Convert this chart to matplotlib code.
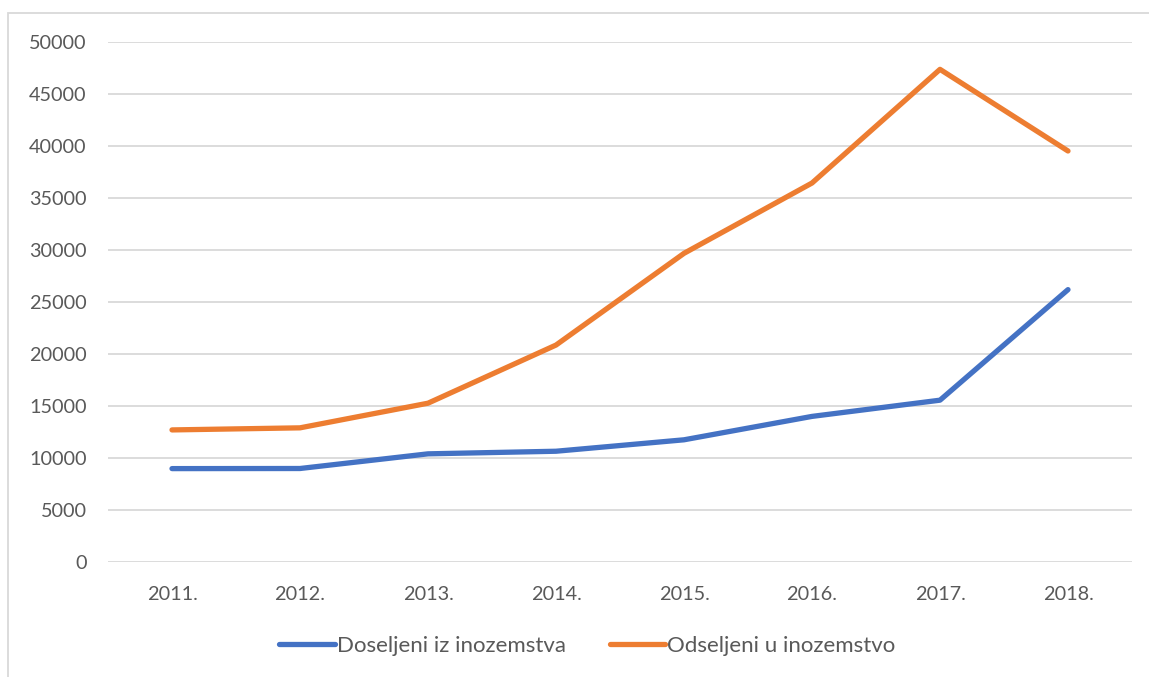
import matplotlib
matplotlib.use('Agg')
from matplotlib import pyplot as plt
from matplotlib.patches import Rectangle

years = ['2011.', '2012.', '2013.', '2014.', '2015.', '2016.', '2017.', '2018.']
doseljeni = [8980, 8990, 10400, 10650, 11750, 14000, 15560, 26190]
odseljeni = [12700, 12900, 15270, 20860, 29680, 36440, 47370, 39520]

plt.rcParams['font.family'] = ['Lato', 'DejaVu Sans']
text_col = '#595959'
grid_col = '#D9D9D9'

fig = plt.figure(figsize=(11.49, 6.77), dpi=100)
ax = fig.add_axes([108 / 1149, 1 - 562 / 677, (1132 - 108) / 1149, (562 - 42) / 677])

x = range(len(years))
ax.plot(x, doseljeni, color='#4472C4', lw=3.8, solid_capstyle='round',
        solid_joinstyle='round', label='Doseljeni iz inozemstva')
ax.plot(x, odseljeni, color='#ED7D31', lw=3.8, solid_capstyle='round',
        solid_joinstyle='round', label='Odseljeni u inozemstvo')

ax.set_xlim(-0.5, len(years) - 0.5)
ax.set_ylim(0, 50000)
ax.set_yticks(range(0, 50001, 5000))
ax.set_xticks(list(x))
ax.set_xticklabels(years)
ax.grid(True, axis='y', color=grid_col, lw=1.3)
ax.set_axisbelow(True)
for s in ax.spines.values():
    s.set_visible(False)
ax.tick_params(axis='both', length=0, labelsize=14.3, labelcolor=text_col)
ax.tick_params(axis='y', pad=15.5)
ax.tick_params(axis='x', pad=17.5)

# legend sits a bit right of centre, as in the original
fig.legend(loc='center', bbox_to_anchor=(0.5 + 13 / 1149, 1 - 646 / 677), ncol=2,
           frameon=False, fontsize=16, labelcolor=text_col, handlelength=2.5,
           handletextpad=0.1, columnspacing=1.95)

# chart border
fig.patches.append(Rectangle((8 / 1149, -0.1), 1.2, 1 - 12.5 / 677 + 0.1,
                             transform=fig.transFigure, fill=False,
                             edgecolor=grid_col, lw=1.3))

fig.savefig('out.png', dpi=100)
